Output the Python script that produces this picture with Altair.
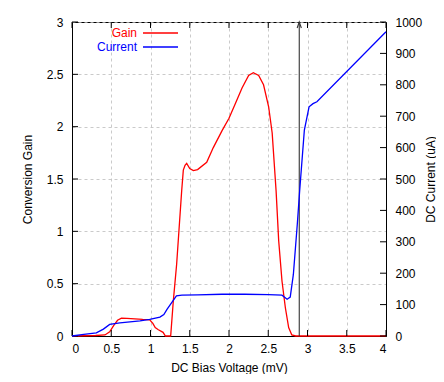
import altair as alt
import pandas as pd

# Gain curve (mV, conversion gain)
gain_v = [0, 0.3, 0.42, 0.48, 0.53, 0.58, 0.63, 0.7, 0.8, 0.9, 0.99, 1.03, 1.06, 1.1, 1.16, 1.19,
          1.257, 1.29, 1.333, 1.397, 1.418, 1.44, 1.461, 1.5, 1.546, 1.6, 1.716, 1.8, 1.91, 2.0,
          2.08, 2.166, 2.25, 2.31, 2.378, 2.44, 2.505, 2.55, 2.60, 2.633, 2.675, 2.718, 2.76,
          2.80, 2.85, 3.5, 4.0]
gain_g = [0, 0.005, 0.01, 0.04, 0.10, 0.15, 0.17, 0.168, 0.163, 0.158, 0.155, 0.12, 0.08, 0.06,
          0.035, 0.0, 0.0, 0.33, 0.685, 1.385, 1.585, 1.63, 1.65, 1.6, 1.58, 1.59, 1.66, 1.8,
          1.96, 2.08, 2.22, 2.37, 2.49, 2.515, 2.49, 2.40, 2.19, 1.94, 1.385, 0.91, 0.525, 0.27,
          0.08, 0.01, 0.0, 0.0, 0.0]

# Current curve (mV, uA)
cur_v = [0, 0.15, 0.31, 0.4, 0.48, 0.61, 0.866, 0.99, 1.12, 1.17, 1.21, 1.27, 1.33, 1.4, 1.6,
         1.91, 2.2, 2.5, 2.675, 2.74, 2.78, 2.82, 2.87, 2.90, 2.96, 3.02, 3.07, 3.12, 4.0]
cur_i = [0, 5, 10, 22, 37, 42, 48, 53, 60, 68, 85, 106, 128, 130, 131, 133, 133, 132, 130, 117,
         124, 196, 356, 462, 656, 730, 740, 746, 969]

x_ticks = [0, 0.5, 1, 1.5, 2, 2.5, 3, 3.5, 4]
gain_ticks = [0, 0.5, 1, 1.5, 2, 2.5, 3]
cur_ticks = [0, 100, 200, 300, 400, 500, 600, 700, 800, 900, 1000]
arrow_x = 2.895

FONT = "Liberation Sans"
W, H = 314, 314

gain_df = pd.DataFrame({"v": gain_v, "g": gain_g})
cur_df = pd.DataFrame({"v": cur_v, "i": cur_i})
xt_df = pd.DataFrame({"t": x_ticks})
gt_df = pd.DataFrame({"t": gain_ticks})
ct_df = pd.DataFrame({"t": cur_ticks})
arrow_df = pd.DataFrame({"x": [arrow_x], "y0": [0.0], "y1": [3.0]})

xscale = alt.Scale(domain=[0, 4], nice=False, zero=False)
gscale = alt.Scale(domain=[0, 3], nice=False)
cscale = alt.Scale(domain=[0, 1000], nice=False)

x_axis = alt.Axis(values=x_ticks, format="~g", ticks=False, labelPadding=7, grid=True,
                  labelOverlap=False,
                  gridDash=[3, 3], gridColor="#bdbdbd", gridWidth=0.8, domainColor="black",
                  title="DC Bias Voltage (mV)", titleX=W / 2, titleY=31,
                  titleBaseline="middle", titleAlign="center")
g_axis = alt.Axis(values=gain_ticks, format="~g", ticks=False, labelPadding=9, grid=True,
                  labelOverlap=False,
                  gridDash=[3, 3], gridColor="#bdbdbd", gridWidth=0.8, domainColor="black",
                  title="Conversion Gain", titleX=-45, titleY=H / 2, titleAngle=-90,
                  titleBaseline="middle", titleAlign="center")
c_axis = alt.Axis(values=cur_ticks, format="d", ticks=False, labelPadding=9, grid=False,
                  labelOverlap=False,
                  orient="right", domainColor="black", title="DC Current (uA)",
                  titleX=44, titleY=H / 2, titleAngle=-90,
                  titleBaseline="middle", titleAlign="center")

gain_line = alt.Chart(gain_df).mark_line(color="#ff0000", strokeWidth=1.3).encode(
    x=alt.X("v:Q", scale=xscale, axis=x_axis),
    y=alt.Y("g:Q", scale=gscale, axis=g_axis),
)

arrow_line = alt.Chart(arrow_df).mark_rule(color="#333333", strokeWidth=1.1).encode(
    x=alt.X("x:Q", scale=xscale, axis=x_axis),
    y=alt.Y("y0:Q", scale=gscale, axis=g_axis),
    y2="y1:Q",
)
arrow_head = alt.Chart(arrow_df).mark_point(
    shape="M-0.7,2L0,0L0.7,2", size=36, filled=False, color="#333333", strokeWidth=1.1, opacity=1
).encode(
    x=alt.X("x:Q", scale=xscale, axis=x_axis),
    y=alt.Y("y1:Q", scale=gscale, axis=g_axis),
)

xtick_bottom = alt.Chart(xt_df).mark_rule(color="black").encode(
    x=alt.X("t:Q", scale=xscale, axis=x_axis), y=alt.value(H), y2=alt.value(H - 6))
xtick_top = alt.Chart(xt_df).mark_rule(color="black").encode(
    x=alt.X("t:Q", scale=xscale, axis=x_axis), y=alt.value(0), y2=alt.value(6))
gtick = alt.Chart(gt_df).mark_rule(color="black").encode(
    y=alt.Y("t:Q", scale=gscale, axis=g_axis), x=alt.value(0), x2=alt.value(6))

leg_gain_text = alt.Chart(arrow_df).mark_text(
    align="right", baseline="middle", font=FONT, fontSize=12, fontWeight="normal", color="#ff0000"
).encode(x=alt.value(65), y=alt.value(11), text=alt.value("Gain"))
leg_gain_line = alt.Chart(arrow_df).mark_rule(color="#ff0000", strokeWidth=1.3).encode(
    x=alt.value(71), x2=alt.value(106), y=alt.value(11))
leg_cur_text = alt.Chart(arrow_df).mark_text(
    align="right", baseline="middle", font=FONT, fontSize=12, fontWeight="normal", color="#0000ff"
).encode(x=alt.value(65), y=alt.value(25), text=alt.value("Current"))
leg_cur_line = alt.Chart(arrow_df).mark_rule(color="#0000ff", strokeWidth=1.3).encode(
    x=alt.value(71), x2=alt.value(106), y=alt.value(25))

cur_line = alt.Chart(cur_df).mark_line(color="#0000ff", strokeWidth=1.3).encode(
    x=alt.X("v:Q", scale=xscale, axis=x_axis),
    y=alt.Y("i:Q", scale=cscale, axis=c_axis),
)
ctick = alt.Chart(ct_df).mark_rule(color="black").encode(
    y=alt.Y("t:Q", scale=cscale, axis=c_axis), x=alt.value(W - 6), x2=alt.value(W))

left_layer = alt.layer(gain_line, arrow_line, arrow_head, xtick_bottom, xtick_top, gtick,
                       leg_gain_text, leg_gain_line, leg_cur_text, leg_cur_line)
right_layer = alt.layer(cur_line, ctick)

chart = alt.layer(left_layer, right_layer).resolve_scale(y="independent").properties(
    width=W, height=H,
    padding={"left": 64, "top": 14, "right": 50, "bottom": 38},
    autosize=alt.AutoSizeParams(type="none"),
    background="white",
).configure_view(stroke="black", strokeWidth=1).configure_axis(
    labelFont=FONT, labelFontSize=12, labelColor="black",
    titleFont=FONT, titleFontSize=12, titleFontWeight="normal", titleColor="black",
)

chart.save("out.html", embed_options={"renderer": "svg", "actions": False})
